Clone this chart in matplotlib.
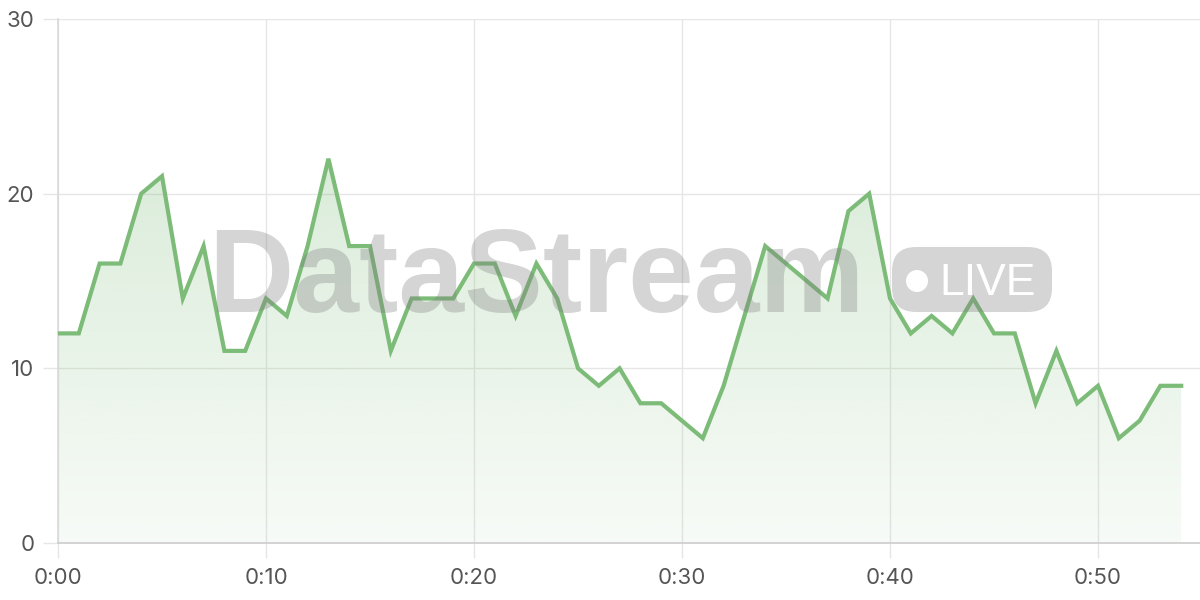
import numpy as np
import matplotlib
matplotlib.use("Agg")
import matplotlib.pyplot as plt
from matplotlib.patches import FancyBboxPatch, Circle

minutes = list(range(55))
values = [12, 12, 16, 16, 20, 21, 14, 17, 11, 11,
          14, 13, 17, 22, 17, 17, 11, 14, 14, 14,
          16, 16, 13, 16, 14, 10, 9, 10, 8, 8,
          7, 6, 9, 13, 17, 16, 15, 14, 19, 20,
          14, 12, 13, 12, 14, 12, 12, 8, 11, 8,
          9, 6, 7, 9, 9]
x_ticks = [0, 10, 20, 30, 40, 50]
x_labels = ["0:00", "0:10", "0:20", "0:30", "0:40", "0:50"]
y_ticks = [0, 10, 20, 30]

plt.rcParams['font.family'] = ['Inter', 'DejaVu Sans']

fig = plt.figure(figsize=(12, 6), dpi=100)
ax = fig.add_axes([58/1200, 57/600, (1200-58)/1200, (543-19)/600])
ax.set_xlim(0, (1200-58)/20.8)
ax.set_ylim(0, 30)

line_color = "#7cbb78"
x = np.array(minutes, dtype=float)
y = np.array(values, dtype=float)

# gradient fill
grad = np.linspace(0, 1, 256).reshape(-1, 1)
rgba = np.zeros((256, 1, 4))
rgba[..., 0] = 0x7c/255
rgba[..., 1] = 0xbb/255
rgba[..., 2] = 0x78/255
rgba[..., 3] = 0.06 + 0.22 * grad[:, 0:1]
im = ax.imshow(rgba, extent=[x[0], x[-1], 0, max(values)], origin='lower',
               aspect='auto', zorder=1)
poly = ax.fill_between(x, y, 0, facecolor='none', edgecolor='none')
clip = poly.get_paths()[0]
im.set_clip_path(clip, transform=ax.transData)

ax.plot(x, y, color=line_color, lw=3, zorder=5, solid_joinstyle='miter')

ax.set_xticks(x_ticks)
ax.set_xticklabels(x_labels)
ax.set_yticks(y_ticks)
ax.grid(True, color="#e6e6e6", lw=1, zorder=0)
ax.set_axisbelow(True)
for s in ['top', 'right']:
    ax.spines[s].set_visible(False)
ax.spines['left'].set_color("#d9d9d9")
ax.spines['bottom'].set_color("#cccccc")
ax.spines['left'].set_linewidth(1.2)
ax.spines['bottom'].set_linewidth(1.2)
ax.tick_params(axis='both', colors="#e6e6e6", labelcolor="#555555",
               labelsize=16, length=11, width=1)
ax.tick_params(axis='y', pad=6)
ax.tick_params(axis='x', pad=7)

# watermark (between fill and line)
wm_color = (0.5, 0.5, 0.5, 0.33)
tr = fig.transFigure
fig.text(208/1200, 1 - 312/600, "DataStream", fontsize=85, fontweight='bold',
         color=wm_color, ha='left', va='baseline', family=['Liberation Sans'],
         zorder=2)
badge = FancyBboxPatch((892/1200, 1 - 312/600), (1052-892)/1200, (312-247)/600,
                       boxstyle="round,pad=0,rounding_size=22",
                       transform=None, facecolor=wm_color,
                       edgecolor='none', zorder=2)
# convert to display coords
x0, y0 = tr.transform((892/1200, 1 - 312/600))
x1, y1 = tr.transform((1052/1200, 1 - 247/600))
badge = FancyBboxPatch((x0, y0), x1 - x0, y1 - y0,
                       boxstyle="round,pad=0,rounding_size=24",
                       transform=None, facecolor=wm_color,
                       edgecolor='none', zorder=2)
fig.patches.append(badge)
cx, cy = tr.transform((917/1200, 1 - 281/600))
fig.patches.append(Circle((cx, cy), 11, transform=None,
                          facecolor='white', edgecolor='none', zorder=3))
fig.text(939/1200, 1 - 295/600, "LIVE", fontsize=32, color='white',
         ha='left', va='baseline', family=['Liberation Sans'], zorder=3)

fig.savefig("out.png", dpi=100)
